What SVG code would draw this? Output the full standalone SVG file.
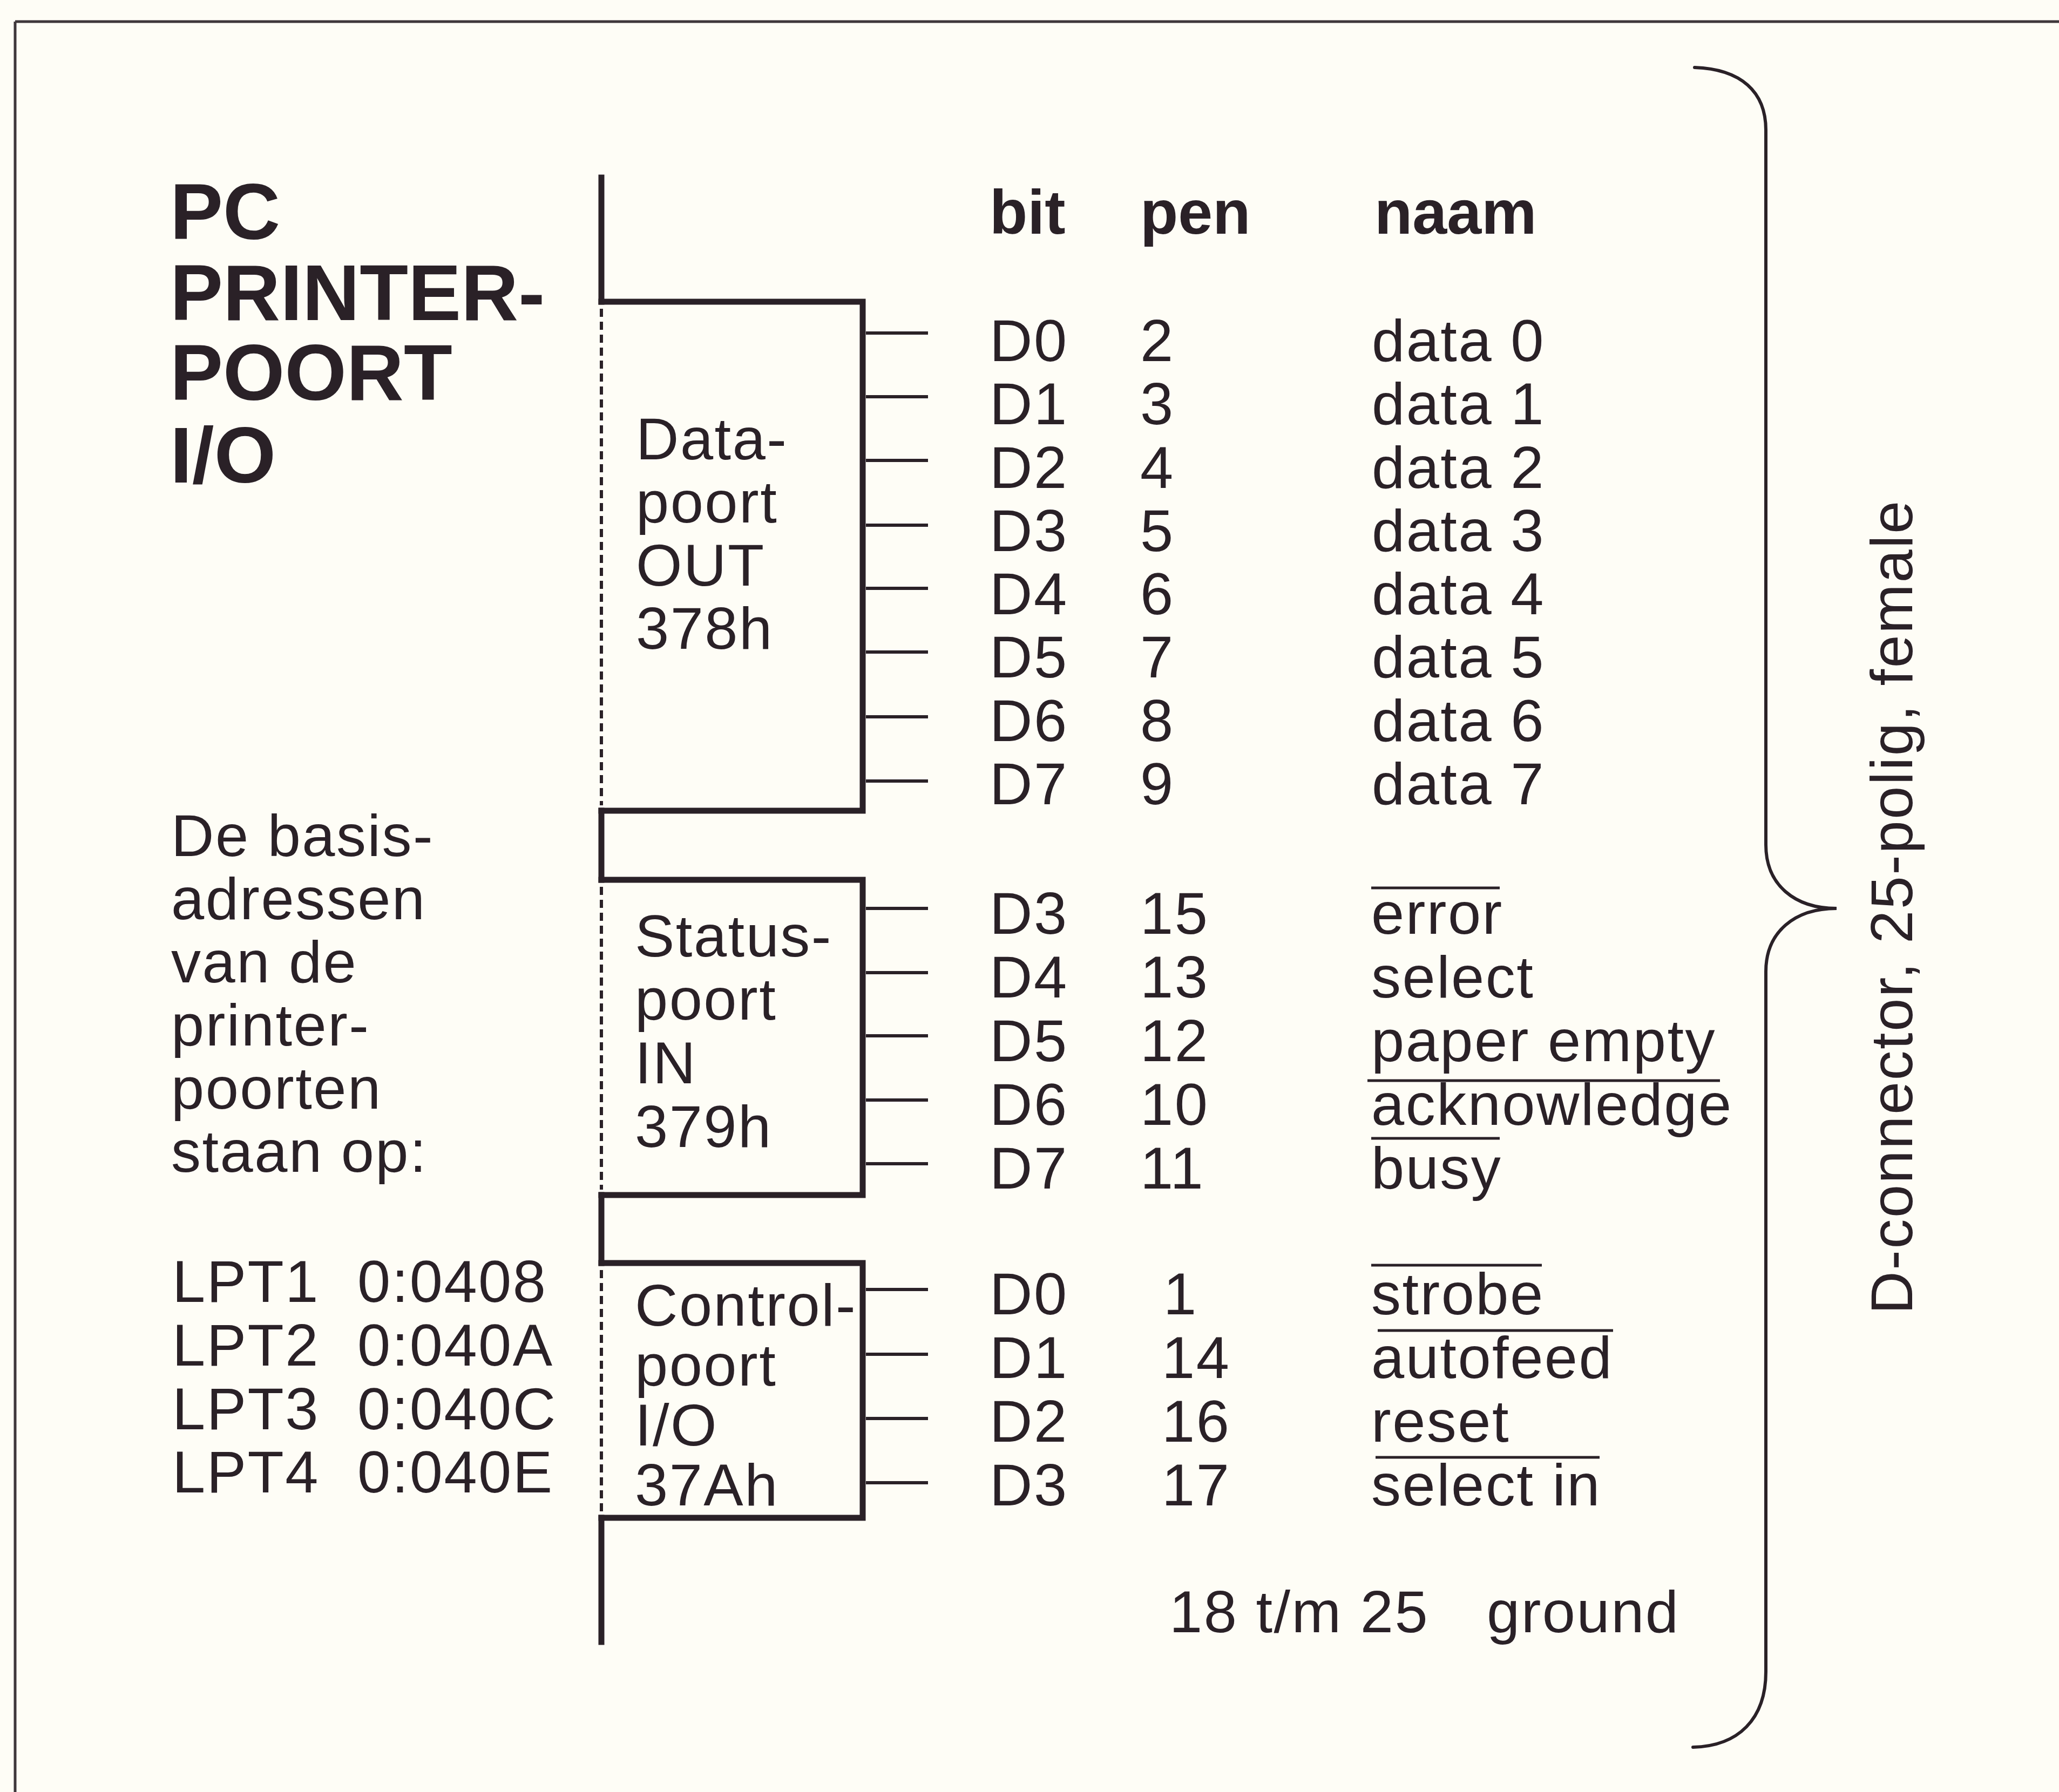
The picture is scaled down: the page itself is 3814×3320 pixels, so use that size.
<svg xmlns="http://www.w3.org/2000/svg" width="3814" height="3320" viewBox="0 0 3814 3320">
<style>
  text { font-family: "Liberation Sans", Arial, Helvetica, sans-serif; fill: #2a2127; }
  .t { font-size: 110px; letter-spacing: 2.5px; }
  .title { font-size: 147px; font-weight: bold; }
  .hdr { font-size: 115px; font-weight: bold; }
  .box { fill: none; stroke: #2a2127; stroke-width: 11; stroke-linejoin: miter; stroke-linecap: square; }
  .dash { fill: none; stroke: #2a2127; stroke-width: 6; stroke-dasharray: 15 9; }
  .bus { fill: none; stroke: #2a2127; stroke-width: 11; stroke-linecap: square; }
  .pin { stroke: #2a2127; stroke-width: 6; }
  .ovl { stroke: #2a2127; stroke-width: 5; }
  .frame { stroke: #3e373b; stroke-width: 5; fill: none; }
  .brace { fill: none; stroke: #2a2127; stroke-width: 6; stroke-linecap: round; }
</style>
<rect width="3814" height="3320" fill="#fefdf6"/>
<g id="frame">
  <line class="frame" x1="28" y1="40" x2="3814" y2="40"/>
  <line class="frame" x1="28" y1="40" x2="28" y2="3320"/>
</g>
<g id="title">
  <text class="title" x="315" y="443">PC</text>
  <text class="title" x="315" y="593">PRINTER-</text>
  <text class="title" x="315" y="741">POORT</text>
  <text class="title" x="315" y="894">I/O</text>
</g>
<g id="note">
  <text class="t" x="317" y="1586">De basis-</text>
  <text class="t" x="317" y="1703">adressen</text>
  <text class="t" x="317" y="1820">van de</text>
  <text class="t" x="317" y="1937">printer-</text>
  <text class="t" x="317" y="2054">poorten</text>
  <text class="t" x="317" y="2171">staan op:</text>
  <text class="t" x="319" y="2412">LPT1</text><text class="t" x="662" y="2412">0:0408</text>
  <text class="t" x="319" y="2530">LPT2</text><text class="t" x="662" y="2530">0:040A</text>
  <text class="t" x="319" y="2648">LPT3</text><text class="t" x="662" y="2648">0:040C</text>
  <text class="t" x="319" y="2765">LPT4</text><text class="t" x="662" y="2765">0:040E</text>
</g>
<g id="header">
  <text class="hdr" x="1833" y="433">bit</text>
  <text class="hdr" x="2112" y="433">pen</text>
  <text class="hdr" x="2546" y="433">naam</text>
</g>
<g id="connectors">
  <path class="bus" d="M1114 329 V559 M1114 1502 V1630 M1114 2214 V2340 M1114 2812 V3042"/>
  <path class="pin" d="M1604 617 H1719 M1604 735 H1719 M1604 853 H1719 M1604 973 H1719 M1604 1090 H1719 M1604 1208 H1719 M1604 1328 H1719 M1604 1447 H1719"/>
  <path class="pin" d="M1604 1683 H1719 M1604 1802 H1719 M1604 1919 H1719 M1604 2038 H1719 M1604 2156 H1719"/>
  <path class="pin" d="M1604 2389 H1719 M1604 2509 H1719 M1604 2628 H1719 M1604 2747 H1719"/>
</g>
<g id="dataport">
  <path class="box" d="M1114 559 H1598 V1502 H1114"/>
  <line class="dash" x1="1114" y1="572" x2="1114" y2="1492"/>
  <text class="t" x="1178" y="851">Data-</text>
  <text class="t" x="1178" y="968">poort</text>
  <text class="t" x="1178" y="1085">OUT</text>
  <text class="t" x="1178" y="1202">378h</text>
  <text class="t" x="1833" y="669">D0</text><text class="t" x="2112" y="669">2</text><text class="t" x="2541" y="669">data 0</text>
  <text class="t" x="1833" y="786">D1</text><text class="t" x="2112" y="786">3</text><text class="t" x="2541" y="786">data 1</text>
  <text class="t" x="1833" y="904">D2</text><text class="t" x="2112" y="904">4</text><text class="t" x="2541" y="904">data 2</text>
  <text class="t" x="1833" y="1021">D3</text><text class="t" x="2112" y="1021">5</text><text class="t" x="2541" y="1021">data 3</text>
  <text class="t" x="1833" y="1138">D4</text><text class="t" x="2112" y="1138">6</text><text class="t" x="2541" y="1138">data 4</text>
  <text class="t" x="1833" y="1255">D5</text><text class="t" x="2112" y="1255">7</text><text class="t" x="2541" y="1255">data 5</text>
  <text class="t" x="1833" y="1373">D6</text><text class="t" x="2112" y="1373">8</text><text class="t" x="2541" y="1373">data 6</text>
  <text class="t" x="1833" y="1490">D7</text><text class="t" x="2112" y="1490">9</text><text class="t" x="2541" y="1490">data 7</text>
</g>
<g id="statusport">
  <path class="box" d="M1114 1630 H1598 V2214 H1114"/>
  <line class="dash" x1="1114" y1="1643" x2="1114" y2="2204"/>
  <text class="t" x="1176" y="1772">Status-</text>
  <text class="t" x="1176" y="1889">poort</text>
  <text class="t" x="1176" y="2007">IN</text>
  <text class="t" x="1176" y="2125">379h</text>
  <text class="t" x="1833" y="1730">D3</text><text class="t" x="2112" y="1730">15</text><text class="t" x="2540" y="1730">error</text>
  <text class="t" x="1833" y="1848">D4</text><text class="t" x="2112" y="1848">13</text><text class="t" x="2540" y="1848">select</text>
  <text class="t" x="1833" y="1966">D5</text><text class="t" x="2112" y="1966">12</text><text class="t" x="2540" y="1966">paper empty</text>
  <text class="t" x="1833" y="2084">D6</text><text class="t" x="2112" y="2084">10</text><text class="t" x="2540" y="2084">acknowledge</text>
  <text class="t" x="1833" y="2202">D7</text><text class="t" x="2112" y="2202">11</text><text class="t" x="2540" y="2202">busy</text>
  <line class="ovl" x1="2540" y1="1645" x2="2778" y2="1645"/>
  <line class="ovl" x1="2533" y1="2002" x2="3186" y2="2002"/>
  <line class="ovl" x1="2540" y1="2109" x2="2778" y2="2109"/>
</g>
<g id="controlport">
  <path class="box" d="M1114 2340 H1598 V2812 H1114"/>
  <line class="dash" x1="1114" y1="2353" x2="1114" y2="2802"/>
  <text class="t" x="1176" y="2456">Control-</text>
  <text class="t" x="1176" y="2567">poort</text>
  <text class="t" x="1176" y="2678">I/O</text>
  <text class="t" x="1176" y="2789">37Ah</text>
  <text class="t" x="1833" y="2435">D0</text><text class="t" x="2155" y="2435">1</text><text class="t" x="2540" y="2435">strobe</text>
  <text class="t" x="1833" y="2553">D1</text><text class="t" x="2152" y="2553">14</text><text class="t" x="2540" y="2553">autofeed</text>
  <text class="t" x="1833" y="2671">D2</text><text class="t" x="2152" y="2671">16</text><text class="t" x="2540" y="2671">reset</text>
  <text class="t" x="1833" y="2789">D3</text><text class="t" x="2152" y="2789">17</text><text class="t" x="2540" y="2789">select in</text>
  <line class="ovl" x1="2540" y1="2344" x2="2856" y2="2344"/>
  <line class="ovl" x1="2552" y1="2465" x2="2988" y2="2465"/>
  <line class="ovl" x1="2548" y1="2700" x2="2963" y2="2700"/>
</g>
<g id="ground">
  <text class="t" x="2166" y="3024">18 t/m 25</text>
  <text class="t" x="2754" y="3024">ground</text>
</g>
<g id="connector-brace">
  <path class="brace" d="M3139 125 C3225 128 3271 170 3271 241 L3271 1565 C3271 1640 3325 1683 3402 1683 C3325 1683 3271 1726 3271 1800 L3271 3097 C3271 3185 3220 3235 3136 3237"/>
  <text class="t" transform="translate(3542 1680) rotate(-90)" text-anchor="middle" x="0" y="0">D-connector, 25-polig, female</text>
</g>
</svg>
